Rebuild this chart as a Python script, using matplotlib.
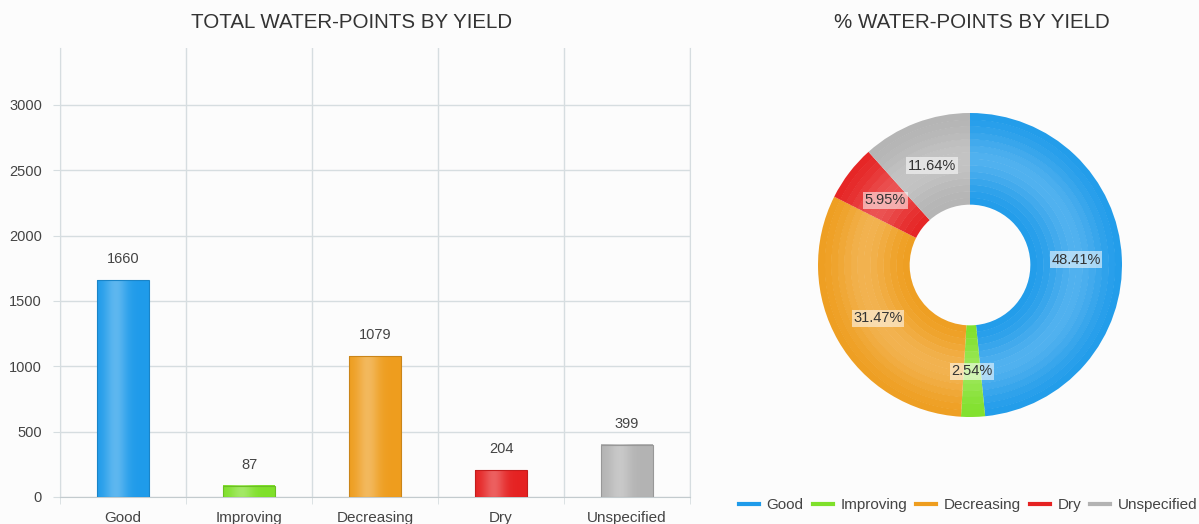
import numpy as np
import matplotlib.pyplot as plt
from matplotlib.colors import to_rgb
from matplotlib.lines import Line2D
from matplotlib.patches import Wedge

categories = ["Good", "Improving", "Decreasing", "Dry", "Unspecified"]
counts = [1660, 87, 1079, 204, 399]
colors = ["#1f9bea", "#7fe02a", "#ee9d1e", "#e52222", "#b3b3b3"]

BG = "#fcfcfc"
GRID = "#d6dde0"
TEXT = "#444444"

plt.rcParams['font.family'] = ['Liberation Sans', 'DejaVu Sans']

fig = plt.figure(figsize=(11.99, 5.24), dpi=100, facecolor=BG)


def lighten(c, amt):
    r = np.array(to_rgb(c))
    return tuple(r + (1 - r) * amt)


def gradient_bar(ax, x, w, h, color):
    # horizontal shading: light streak left of centre, darker edges
    t = np.linspace(0, 1, 64)
    shade = np.exp(-((t - 0.36) / 0.22) ** 2) * 0.28
    base = np.array(to_rgb(color))
    row = base[None, :] + (1 - base[None, :]) * shade[:, None]
    img = np.repeat(row[None, :, :], 2, axis=0)
    ax.imshow(img, extent=(x - w / 2, x + w / 2, 0, h), aspect='auto',
              zorder=3, interpolation='bilinear')
    ax.add_patch(plt.Rectangle((x - w / 2, 0), w, h, fill=False,
                               edgecolor=tuple(base * 0.85), lw=0.8, zorder=4))


# ---- bar chart ----
ax = fig.add_axes([60 / 1199, 27 / 524, 630 / 1199, 449 / 524])
ax.set_facecolor(BG)
xs = np.arange(len(categories))
bw = 0.41
for x, v, c in zip(xs, counts, colors):
    gradient_bar(ax, x, bw, v, c)
    ax.annotate(str(v), (x, v), xytext=(0, 10), textcoords='offset points',
                ha='center', va='bottom', fontsize=10.5, color=TEXT)

ax.set_xlim(-0.5, len(categories) - 0.5)
ax.set_ylim(0, 3436)
ax.set_yticks(np.arange(0, 3001, 500))
ax.set_xticks(xs)
ax.set_xticklabels(categories, fontsize=11, color=TEXT)
ax.set_xticks(np.arange(-0.5, len(categories)), minor=True)
ax.tick_params(axis='x', which='major', length=0, pad=10)
ax.tick_params(axis='x', which='minor', length=5, color=GRID)
ax.tick_params(axis='y', length=5, color=GRID, labelsize=10.5,
               labelcolor=TEXT, pad=8)
ax.grid(axis='y', color=GRID, lw=1)
ax.grid(axis='x', which='minor', color=GRID, lw=1)
ax.set_axisbelow(True)
ax.spines['top'].set_visible(False)
for s in ['left', 'bottom', 'right']:
    ax.spines[s].set_color(GRID)
ax.spines['bottom'].set_color("#c3cbce")
fig.text(352 / 1199, 1 - 22 / 524, "TOTAL WATER-POINTS BY YIELD",
         ha='center', va='center', fontsize=14.8, color="#333333")

# ---- donut chart ----
R = 152
pax = fig.add_axes([(970 - R) / 1199, (524 - 265 - R) / 524,
                    2 * R / 1199, 2 * R / 524])
pax.set_xlim(-1, 1)
pax.set_ylim(-1, 1)
pax.set_aspect('equal')
pax.axis('off')

total = sum(counts)
inner = 0.40
start = 90.0
for v, c in zip(counts, colors):
    sweep = 360.0 * v / total
    a1, a0 = start, start - sweep
    # concentric bands give the ring a soft highlight in the middle
    n = 14
    edges = np.linspace(inner, 1.0, n + 1)
    for i in range(n):
        mid = (edges[i] + edges[i + 1]) / 2
        t = (mid - inner) / (1 - inner)
        amt = 0.22 * np.exp(-((t - 0.5) / 0.3) ** 2)
        pax.add_patch(Wedge((0, 0), edges[i + 1], a0, a1,
                            width=edges[i + 1] - edges[i] + 0.003,
                            facecolor=lighten(c, amt), edgecolor='none'))
    mid_ang = np.deg2rad((a0 + a1) / 2)
    rlab = (1 + inner) / 2
    pax.text(rlab * np.cos(mid_ang), rlab * np.sin(mid_ang),
             f"{100 * v / total:.2f}%", ha='center', va='center',
             fontsize=10.5, color="#333333",
             bbox=dict(boxstyle='square,pad=0.1', facecolor='white',
                       alpha=0.55, edgecolor='none'))
    start = a0

fig.text(972 / 1199, 1 - 22 / 524, "% WATER-POINTS BY YIELD",
         ha='center', va='center', fontsize=14.8, color="#333333")

handles = [Line2D([], [], color=c, lw=3) for c in colors]
fig.legend(handles, categories, loc='center right', ncol=5,
           bbox_to_anchor=(1.0, 1 - 505 / 524), frameon=False,
           borderaxespad=0, borderpad=0.1,
           fontsize=11, handlelength=1.3, handletextpad=0.5,
           columnspacing=0.6, labelcolor=TEXT)

fig.savefig("out.png", dpi=100, facecolor=BG)
